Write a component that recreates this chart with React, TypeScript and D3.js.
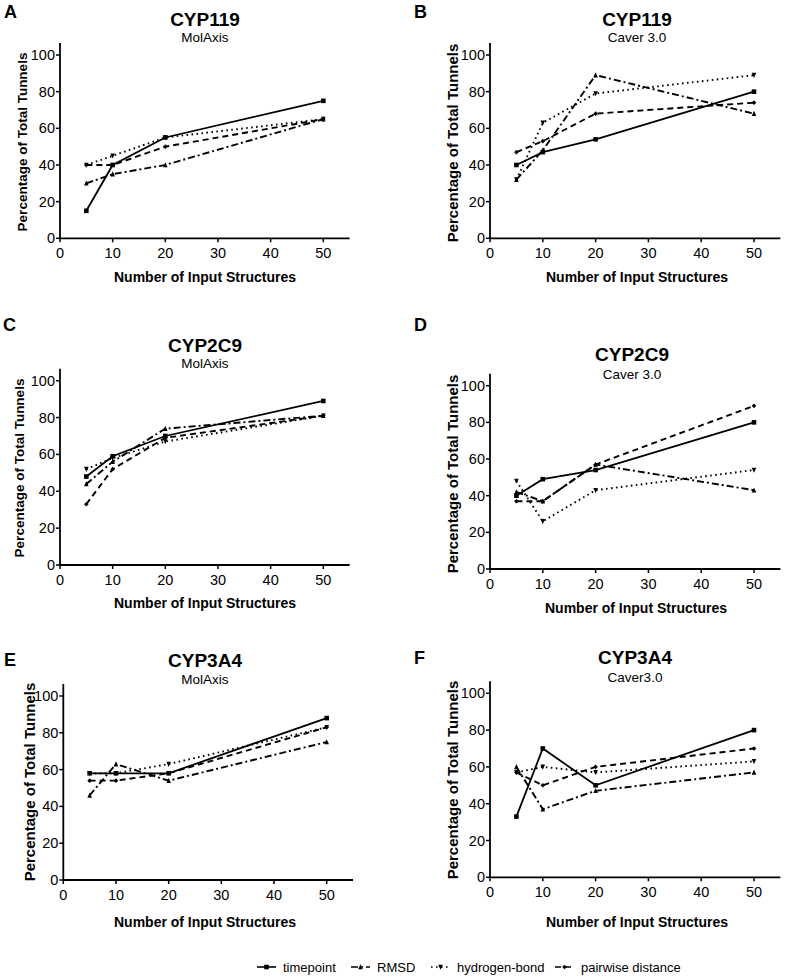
import React from "react";
import * as d3 from "d3";

const xValues = [5, 10, 20, 50];
const xTicks = [0, 10, 20, 30, 40, 50];
const yTicks = [0, 20, 40, 60, 80, 100];
const seriesNames = ["timepoint", "RMSD", "hydrogen-bond", "pairwise distance"];
const panelLetters = ["A", "B", "C", "D", "E", "F"];
const panelTitles = ["CYP119", "CYP119", "CYP2C9", "CYP2C9", "CYP3A4", "CYP3A4"];
const panelSubtitles = ["MolAxis", "Caver 3.0", "MolAxis", "Caver 3.0", "MolAxis", "Caver3.0"];

// values per panel A..F
const timepoint = [
  [15, 40, 55, 75],
  [40, 47, 54, 80],
  [48, 59, 70, 89],
  [40, 49, 54, 80],
  [58, 58, 58, 88],
  [33, 70, 50, 80],
];
const rmsd = [
  [30, 35, 40, 65],
  [32, 48, 89, 68],
  [44, 56, 74, 81],
  [42, 37, 57, 43],
  [46, 63, 54, 75],
  [60, 37, 47, 57],
];
const hydrogenBond = [
  [40, 45, 55, 65],
  [32, 63, 79, 89],
  [52, 58, 67, 81],
  [48, 26, 43, 54],
  [58, 58, 63, 83],
  [57, 60, 57, 63],
];
const pairwise = [
  [40, 40, 50, 65],
  [47, 53, 68, 74],
  [33, 52, 69, 81],
  [37, 37, 57, 89],
  [54, 54, 58, 83],
  [57, 50, 60, 70],
];
const allSeries = [timepoint, rmsd, hydrogenBond, pairwise];

const dashes = [null, "7,3,2,3", "1.6,3.4", "6,4"];
const markers = ["square", "triUp", "triDown", "diamond"];

// panel layout (pixel geometry)
const layout = [
  { left: 60, x50: 323.3, y0: 238.3, y100: 55, ylx: 22, yly: 142, ylSize: 13.5, tx: 205, ty: 26, sy: 42, lx: 4, ly: 18, xtY: 282, xtX: 205 },
  { left: 490, x50: 754, y0: 238.3, y100: 55, ylx: 452, yly: 143, ylSize: 15, tx: 637, ty: 26, sy: 42, lx: 414, ly: 18, xtY: 282, xtX: 637 },
  { left: 60, x50: 323.3, y0: 565, y100: 380.7, ylx: 19, yly: 468, ylSize: 13.5, tx: 205, ty: 352, sy: 368, lx: 3, ly: 331, xtY: 608, xtX: 205 },
  { left: 490, x50: 754, y0: 569, y100: 385.7, ylx: 452, yly: 474, ylSize: 15, tx: 632, ty: 361, sy: 379, lx: 414, ly: 331, xtY: 613, xtX: 636 },
  { left: 63.3, x50: 326.7, y0: 880, y100: 696, ylx: 29, yly: 782, ylSize: 15, tx: 205, ty: 667, sy: 684, lx: 4, ly: 666, xtY: 927, xtX: 205 },
  { left: 490, x50: 754, y0: 877.3, y100: 693.3, ylx: 452, yly: 780, ylSize: 15, tx: 635, ty: 664, sy: 682, lx: 414, ly: 664, xtY: 927, xtX: 637 },
];

const FONT = "Liberation Sans, Arial, sans-serif";

function Marker({ type, x, y }: { type: string; x: number; y: number }) {
  const s = 2.3;
  if (type === "square") return <rect x={x - s} y={y - s} width={2 * s} height={2 * s} fill="#000" />;
  if (type === "triUp") return <path d={`M${x},${y - s - 0.5}L${x + s},${y + s}L${x - s},${y + s}Z`} fill="#000" />;
  if (type === "triDown") return <path d={`M${x},${y + s + 0.5}L${x + s},${y - s}L${x - s},${y - s}Z`} fill="#000" />;
  return <path d={`M${x},${y - s}L${x + s},${y}L${x},${y + s}L${x - s},${y}Z`} fill="#000" />;
}

function Panel({ i }: { i: number }) {
  const g = layout[i];
  const x = d3.scaleLinear().domain([0, 50]).range([g.left, g.x50]);
  const y = d3.scaleLinear().domain([0, 100]).range([g.y0, g.y100]);
  const line = d3
    .line<number>()
    .x((_, k) => x(xValues[k]))
    .y((v) => y(v));
  return (
    <g>
      <text x={g.lx} y={g.ly} fontFamily={FONT} fontWeight="bold" fontSize={18}>
        {panelLetters[i]}
      </text>
      <text x={g.tx} y={g.ty} textAnchor="middle" fontFamily={FONT} fontWeight="bold" fontSize={19}>
        {panelTitles[i]}
      </text>
      <text x={g.tx} y={g.sy} textAnchor="middle" fontFamily={FONT} fontSize={13.5}>
        {panelSubtitles[i]}
      </text>
      {/* axes */}
      <line x1={x(0)} x2={x(55)} y1={y(0)} y2={y(0)} stroke="#000" strokeWidth={1.8} />
      <line x1={x(0)} x2={x(0)} y1={y(0)} y2={y(106.5)} stroke="#000" strokeWidth={1.8} />
      {xTicks.map((t) => (
        <g key={"x" + t}>
          <line x1={x(t)} x2={x(t)} y1={y(0)} y2={y(0) + 4} stroke="#000" strokeWidth={1.5} />
          <text x={x(t)} y={y(0) + 20} textAnchor="middle" fontFamily={FONT} fontSize={14.5}>
            {t}
          </text>
        </g>
      ))}
      {yTicks.map((t) => (
        <g key={"y" + t}>
          <line x1={x(0) - 4} x2={x(0)} y1={y(t)} y2={y(t)} stroke="#000" strokeWidth={1.5} />
          <text x={x(0) - 5} y={y(t) + 5} textAnchor="end" fontFamily={FONT} fontSize={14.5}>
            {t}
          </text>
        </g>
      ))}
      <text
        transform={`translate(${g.ylx},${g.yly}) rotate(-90)`}
        textAnchor="middle"
        dominantBaseline="central"
        fontFamily={FONT}
        fontWeight="bold"
        fontSize={g.ylSize}
      >
        Percentage of Total Tunnels
      </text>
      <text x={g.xtX} y={g.xtY} textAnchor="middle" fontFamily={FONT} fontWeight="bold" fontSize={14}>
        Number of Input Structures
      </text>
      {allSeries.map((s, si) => (
        <g key={si}>
          <path
            d={line(s[i]) || ""}
            fill="none"
            stroke="#000"
            strokeWidth={si === 0 ? 1.8 : 1.9}
            strokeDasharray={dashes[si] || undefined}
          />
          {s[i].map((v, k) => (
            <Marker key={k} type={markers[si]} x={x(xValues[k])} y={y(v)} />
          ))}
        </g>
      ))}
    </g>
  );
}

const legendX = [257, 351, 431, 555];

export default function App() {
  return (
    <svg
      width={785}
      height={980}
      style={{ position: "absolute", left: 0, top: 0, background: "#fff" }}
    >
      <rect width={785} height={980} fill="#fff" />
      {layout.map((_, i) => (
        <Panel key={i} i={i} />
      ))}
      {seriesNames.map((n, si) => (
        <g key={n}>
          <line
            x1={legendX[si]}
            x2={legendX[si] + 19}
            y1={967}
            y2={967}
            stroke="#000"
            strokeWidth={1.6}
            strokeDasharray={dashes[si] || undefined}
          />
          <Marker type={markers[si]} x={legendX[si] + 9.5} y={967} />
          <text x={legendX[si] + 26} y={971.5} fontFamily={FONT} fontSize={13}>
            {n}
          </text>
        </g>
      ))}
    </svg>
  );
}
